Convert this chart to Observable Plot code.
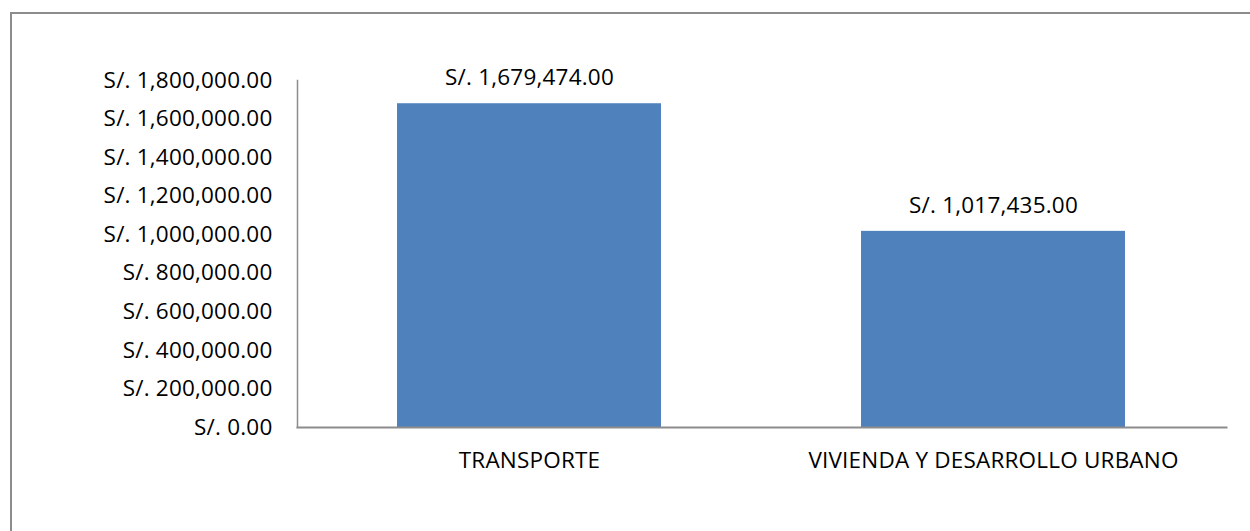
<!DOCTYPE html>
<html>
<head>
<meta charset="utf-8">
<script src="https://cdn.jsdelivr.net/npm/d3@7"></script>
<script src="https://cdn.jsdelivr.net/npm/@observablehq/plot@0.6"></script>
<style>
  html, body { margin: 0; padding: 0; background: #fff; }
  #wrap { position: relative; width: 1250px; height: 531px; overflow: hidden; }
  #border { position: absolute; left: 10px; top: 12px; width: 1300px; height: 600px;
            border-left: 2px solid #8c8c8c; border-top: 2px solid #8c8c8c; box-sizing: border-box; }
  #chart { position: absolute; left: 0; top: 0; }
  #chart svg text { font-family: "Open Sans", sans-serif; font-weight: 400; letter-spacing: 0.2px; }
</style>
</head>
<body>
<div id="wrap"><div id="border"></div><div id="chart"></div></div>
<script>
const categories = ["TRANSPORTE", "VIVIENDA Y DESARROLLO URBANO"];
const values = [1679474, 1017435];
const yTicks = [0, 200000, 400000, 600000, 800000, 1000000, 1200000, 1400000, 1600000, 1800000];

const data = categories.map((c, i) => ({category: c, value: values[i]}));
const fmt = v => "S/. " + d3.format(",.2f")(v);
const font = "'Open Sans', sans-serif";
const fs = 22.5;

const chart = Plot.plot({
  width: 1250,
  height: 531,
  marginLeft: 297,
  marginRight: 24,
  marginTop: 80,
  marginBottom: 104,
  style: {fontFamily: font, fontSize: fs + "px", color: "#000", background: "transparent"},
  x: {domain: categories, paddingInner: 0.43, paddingOuter: 0.215, label: null},
  y: {domain: [0, 1800000], label: null},
  marks: [
    Plot.barY(data, {x: "category", y: "value", fill: "#4f81bd"}),
    Plot.frame({anchor: "left", stroke: "#8c8c8c", strokeWidth: 1.5}),
    Plot.frame({anchor: "bottom", stroke: "#8c8c8c", strokeWidth: 2}),
    Plot.axisY({ticks: yTicks, tickFormat: fmt, tickSize: 0, tickPadding: 25, fontSize: fs, label: null}),
    Plot.axisX({tickSize: 0, tickPadding: 25, fontSize: fs, label: null}),
    Plot.text(data, {x: "category", y: "value", text: d => fmt(d.value), dy: -26, fontSize: fs, fill: "#000"})
  ]
});
document.getElementById("chart").appendChild(chart);
</script>
</body>
</html>
